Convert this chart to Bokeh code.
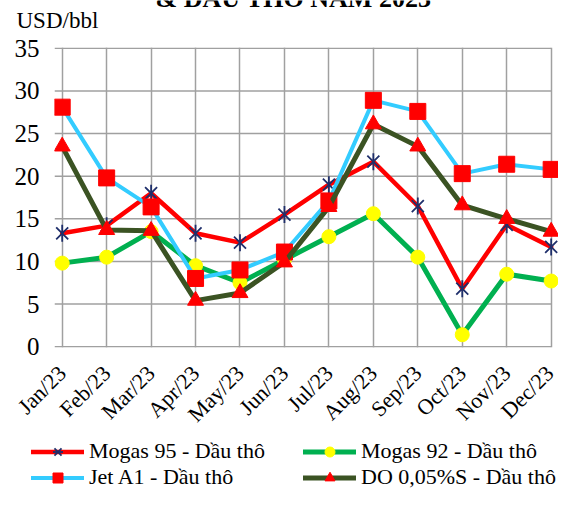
import math
from bokeh.plotting import figure
from bokeh.layouts import column
from bokeh.models import Range1d, FixedTicker, Legend, LegendItem, Label
from bokeh.embed import file_html
from bokeh.resources import INLINE

months = ["Jan/23", "Feb/23", "Mar/23", "Apr/23", "May/23", "Jun/23",
          "Jul/23", "Aug/23", "Sep/23", "Oct/23", "Nov/23", "Dec/23"]
mogas95 = [13.3, 14.2, 18.0, 13.3, 12.2, 15.5, 19.0, 21.7, 16.5, 6.8, 14.3, 11.7]
mogas92 = [9.8, 10.5, 13.5, 9.5, 7.5, 10.2, 12.9, 15.6, 10.5, 1.4, 8.5, 7.7]
jet_a1 = [28.1, 19.8, 16.4, 8.0, 9.0, 11.1, 17.1, 28.9, 27.6, 20.3, 21.4, 20.8]
do005 = [23.5, 13.7, 13.6, 5.4, 6.3, 9.9, 16.4, 26.1, 23.5, 16.6, 15.0, 13.5]
y_ticks = [0, 5, 10, 15, 20, 25, 30, 35]
names = ["Mogas 95 - Dầu thô", "Mogas 92 - Dầu thô", "Jet A1 - Dầu thô", "DO 0,05%S - Dầu thô"]
unit_text = "USD/bbl"
title_tail = "& DẦU THÔ NĂM 2023"

FONT = "Liberation Serif"
GRID = "#A0A0A0"
W = 558

x = list(range(len(months)))


def no_align(fig):
    try:
        fig.frame_align = False
    except Exception:
        pass


def draw_series(fig):
    l1 = fig.line(x, mogas95, line_color="#FF0000", line_width=4.5, line_join="round", line_cap="round")
    m1a = fig.scatter(x, mogas95, marker="x", size=17, line_color="#1F2F6B", line_width=1.8)
    m1b = fig.scatter(x, mogas95, marker="dash", angle=math.pi / 2, size=17, line_color="#1F2F6B", line_width=1.8)
    l2 = fig.line(x, mogas92, line_color="#00B050", line_width=5, line_join="round", line_cap="round")
    m2 = fig.scatter(x, mogas92, marker="circle", size=14, fill_color="#FFFF00", line_color="#FFFF00")
    l3 = fig.line(x, jet_a1, line_color="#33CCFF", line_width=4, line_join="round", line_cap="round")
    m3 = fig.scatter(x, jet_a1, marker="square", size=16, fill_color="#FF0000", line_color="#FF0000")
    l4 = fig.line(x, do005, line_color="#3B5323", line_width=5, line_join="round", line_cap="round")
    m4 = fig.scatter(x, do005, marker="triangle", size=16, fill_color="#FF0000", line_color="#FF0000")
    return [[l1, m1a, m1b], [l2, m2], [l3, m3], [l4, m4]]


def bare(fig):
    fig.outline_line_color = None
    fig.grid.visible = False
    fig.background_fill_color = "white"
    fig.border_fill_color = "white"
    no_align(fig)


# ---- top strip: unit label (and the tail of the chart title, clipped as in the source) ----
top = figure(width=W, height=33, output_backend="svg", toolbar_location=None,
             x_axis_type=None, y_axis_type=None, x_range=Range1d(0, 1), y_range=Range1d(0, 1),
             min_border=0, min_border_left=0, min_border_right=0, min_border_top=0, min_border_bottom=0)
bare(top)
top.add_layout(Label(x=155, y=35, x_units="screen", y_units="screen", text=title_tail,
                     text_font=FONT, text_font_size="26px", text_font_style="bold",
                     text_color="black", text_baseline="alphabetic"))
top.add_layout(Label(x=16, y=13, x_units="screen", y_units="screen", text=unit_text,
                     text_font=FONT, text_font_size="23px", text_color="black",
                     text_baseline="alphabetic"))

# ---- main chart ----
p = figure(width=W, height=405, output_backend="svg", toolbar_location=None,
           x_range=Range1d(-0.173, len(months) - 1 + 0.165), y_range=Range1d(-0.1, 35.1),
           min_border_left=54, min_border_right=0, min_border_top=14, min_border_bottom=89)
p.outline_line_color = None
p.background_fill_color = "white"
p.border_fill_color = "white"
no_align(p)

p.xaxis.ticker = FixedTicker(ticks=x)
p.xaxis.major_label_overrides = {i: m for i, m in enumerate(months)}
p.xaxis.major_label_orientation = math.pi / 4
p.xaxis.major_label_text_font = FONT
p.xaxis.major_label_text_font_size = "22px"
p.xaxis.major_label_text_color = "black"
p.xaxis.major_tick_line_color = None
p.xaxis.major_tick_out = 0
p.xaxis.major_tick_in = 0
p.xaxis.minor_tick_line_color = None
p.xaxis.axis_line_color = None
p.xaxis.major_label_standoff = 22

p.yaxis.ticker = FixedTicker(ticks=y_ticks)
p.yaxis.major_label_text_font = FONT
p.yaxis.major_label_text_font_size = "25px"
p.yaxis.major_label_text_color = "black"
p.yaxis.major_tick_line_color = None
p.yaxis.major_tick_out = 0
p.yaxis.major_tick_in = 0
p.yaxis.minor_tick_line_color = None
p.yaxis.axis_line_color = None
p.yaxis.major_label_standoff = 15

p.xgrid.ticker = FixedTicker(ticks=x)
p.xgrid.grid_line_color = GRID
p.xgrid.grid_line_width = 1.5
p.ygrid.visible = False
# horizontal grid lines, starting a little left of the first category (Excel's outside tick)
p.segment(x0=[p.x_range.start] * len(y_ticks), x1=[x[-1]] * len(y_ticks), y0=y_ticks, y1=y_ticks,
          line_color=GRID, line_width=1.5)

draw_series(p)

# ---- legend strip ----
leg = figure(width=W, height=52, output_backend="svg", toolbar_location=None,
             x_axis_type=None, y_axis_type=None, x_range=Range1d(0, 1), y_range=Range1d(100, 200),
             min_border=0, min_border_left=0, min_border_right=0, min_border_top=0, min_border_bottom=0)
bare(leg)
rs = draw_series(leg)


def make_legend(items, vx):
    return Legend(items=items, location=(vx, 0), orientation="vertical",
                  padding=0, margin=0, spacing=0, border_line_color=None,
                  background_fill_alpha=0, glyph_width=53, glyph_height=25,
                  label_height=25, label_standoff=5,
                  label_text_font=FONT, label_text_font_size="22px", label_text_color="black")


leg.add_layout(make_legend([LegendItem(label=names[0], renderers=rs[0]),
                            LegendItem(label=names[2], renderers=rs[2])], 31), "center")
leg.add_layout(make_legend([LegendItem(label=names[1], renderers=rs[1]),
                            LegendItem(label=names[3], renderers=rs[3])], 303), "center")

layout = column(top, p, leg, spacing=0)
open("out.html", "w").write(file_html(layout, INLINE))
